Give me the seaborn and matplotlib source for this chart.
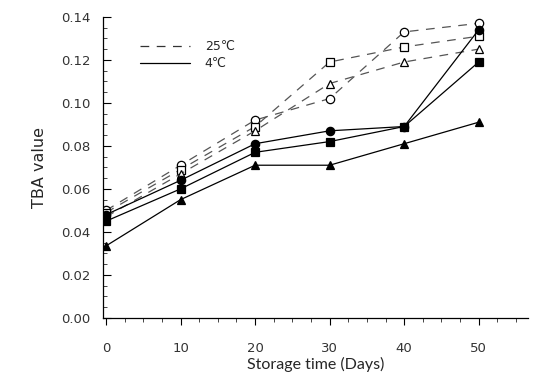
import matplotlib
matplotlib.use("Agg")
import matplotlib.pyplot as plt
from matplotlib.lines import Line2D
from matplotlib.ticker import MultipleLocator, FormatStrFormatter
import seaborn as sns
import pandas as pd

days = [0, 10, 20, 30, 40, 50]

# 25 C (dashed, open markers)
warm_circle = [0.050, 0.071, 0.092, 0.102, 0.133, 0.137]
warm_square = [0.049, 0.069, 0.089, 0.119, 0.126, 0.131]
warm_triangle = [0.047, 0.067, 0.087, 0.109, 0.119, 0.125]

# 4 C (solid, filled markers)
cold_circle = [0.048, 0.064, 0.081, 0.087, 0.089, 0.134]
cold_square = [0.045, 0.060, 0.077, 0.082, 0.089, 0.119]
cold_triangle = [0.0335, 0.055, 0.071, 0.071, 0.081, 0.091]

legend_labels = ["25\u2103", "4\u2103"]
xlabel = "Storage time (Days)"
ylabel = "TBA value"

sns.set_style("ticks")
plt.rcParams['font.family'] = ['DejaVu Sans']

fig = plt.figure(figsize=(5.37, 3.83), dpi=100)
ax = fig.add_axes([0.192, 0.170, 0.791, 0.786])

series = [
    (warm_circle, 'o', (0, (7, 6)), 'white'),
    (warm_square, 's', (0, (7, 6)), 'white'),
    (warm_triangle, '^', (0, (7, 6)), 'white'),
    (cold_circle, 'o', '-', 'black'),
    (cold_square, 's', '-', 'black'),
    (cold_triangle, '^', '-', 'black'),
]

for vals, mk, ls, fc in series:
    df = pd.DataFrame({"day": days, "tba": vals})
    lc = '#555555' if fc == 'white' else 'black'
    sns.lineplot(data=df, x="day", y="tba", ax=ax, color=lc, linestyle=ls,
                 linewidth=0.9, marker=mk, markersize=6,
                 markerfacecolor=fc, markeredgecolor='black',
                 markeredgewidth=0.9)

ax.set_xlim(-0.4, 56.6)
ax.set_ylim(0, 0.14)
ax.xaxis.set_major_locator(MultipleLocator(10))
ax.xaxis.set_minor_locator(MultipleLocator(2.5))
ax.yaxis.set_major_locator(MultipleLocator(0.02))
ax.yaxis.set_minor_locator(MultipleLocator(0.005))
ax.yaxis.set_major_formatter(FormatStrFormatter('%.2f'))

for s in ['top', 'right']:
    ax.spines[s].set_visible(False)
for s in ['left', 'bottom']:
    ax.spines[s].set_linewidth(0.9)
    ax.spines[s].set_color('black')

ax.tick_params(axis='x', which='major', direction='out', length=5, width=0.8,
               labelsize=9.5, pad=12, colors='black', labelcolor='#333333')
ax.tick_params(axis='x', which='minor', direction='out', length=3, width=0.6)
ax.tick_params(axis='y', which='major', direction='in', length=6, width=0.8,
               labelsize=9.5, pad=9, colors='black', labelcolor='#333333')
ax.tick_params(axis='y', which='minor', direction='in', length=3, width=0.6)

ax.set_xlabel(xlabel, fontsize=11.5, family=['Lato', 'DejaVu Sans'], labelpad=2)
ax.set_ylabel(ylabel, fontsize=11.5, labelpad=10)

handles = [Line2D([], [], color='#333333', linestyle=(0, (7, 6)), linewidth=0.9),
           Line2D([], [], color='black', linestyle='-', linewidth=0.9)]
ax.legend(handles, legend_labels, loc='upper left', bbox_to_anchor=(0.06, 0.96),
          frameon=False, fontsize=9, handlelength=4.0, handletextpad=1.2,
          labelspacing=0.3)

fig.savefig("out.png", dpi=100)
